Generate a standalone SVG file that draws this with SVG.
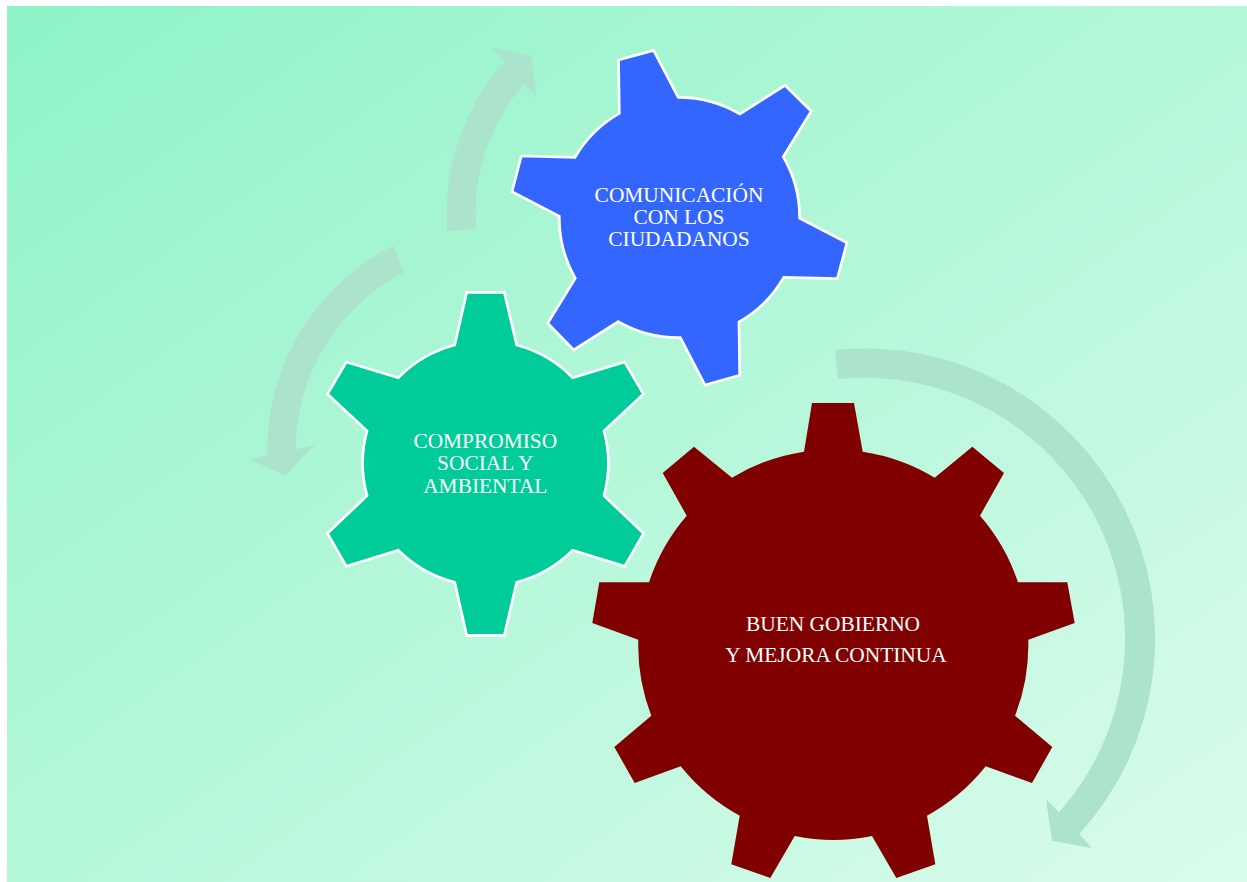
<svg xmlns="http://www.w3.org/2000/svg" width="1247" height="882" viewBox="0 0 1247 882">
<style>
.gear{stroke:#fff;stroke-width:2.7;stroke-linejoin:miter}
.arrow{fill:#abe3cc}
text{font-family:"Liberation Serif","Times New Roman",serif;font-size:21.4px;fill:#fff;text-anchor:middle}
</style>
<defs><linearGradient id="bg" x1="0" y1="0" x2="1" y2="1"><stop offset="0" stop-color="#8ef3c6"/><stop offset="1" stop-color="#dafbec"/></linearGradient></defs>
<rect width="1247" height="882" fill="#fff"/>
<rect x="7" y="6" width="1240" height="876" fill="url(#bg)"/>
<g id="connectors">
<path class="arrow" d="M835,350A290,290 0 0 1 1079.3,834L1091.7,848L1052,840.7L1046,799.3L1059,812.3A261,261 0 0 0 838,379Z"/>
<path class="arrow" d="M447.3,231A230,230 0 0 1 504.3,61.7L492.3,47.7L531.7,55.7L536.3,97.3L524.3,83.3A200,200 0 0 0 476,229Z"/>
<path class="arrow" d="M393,245.7A230,230 0 0 0 267.3,455L249.3,459.3L285.3,475.7L314.7,445.3L295.7,449.3A200,200 0 0 1 404,272.3Z"/>
</g>
<g id="gear-comunicacion">
<path class="gear" fill="#3366ff" d="M619.3,113.3L618.5,60L653.6,50.4L678.3,97.3A120,120 0 0 1 740,114L785,85.3L811.3,111.3L783.3,156.7A120,120 0 0 1 799.6,218.3L847,242.7L837.3,278.7L783.7,277.3A120,120 0 0 1 739,322L739.7,375.3L705,385L680.3,337.7A120,120 0 0 1 618.3,321.7L573.7,350L547.7,323.3L575.3,278.3A120,120 0 0 1 559.3,216.3L512,191.7L521.3,156L575,157.3A120,120 0 0 1 619.3,113.3Z"/>
<text x="679" y="201.7">COMUNICACIÓN</text>
<text x="679" y="224">CON LOS</text>
<text x="679" y="246">CIUDADANOS</text>
</g>
<g id="gear-compromiso">
<path class="gear" fill="#00cc99" d="M454.7,345L466.7,292.3L504.3,292.3L516.7,345A123,123 0 0 1 572.7,377.7L624.7,362L643.5,394L604,431A123,123 0 0 1 604,495.7L643.5,533.3L624.7,566.3L572.7,550.3A123,123 0 0 1 516.7,582.3L504.3,635.4L466.7,635.4L454.7,582.3A123,123 0 0 1 398.3,550.3L346.3,566.3L327.5,533.3L367,495.7A123,123 0 0 1 367,431L327.5,394L346.3,362L398.3,377.7A123,123 0 0 1 454.7,345Z"/>
<text x="485.3" y="447.7">COMPROMISO</text>
<text x="485.3" y="470">SOCIAL Y</text>
<text x="485.3" y="492.7">AMBIENTAL</text>
</g>
<g id="gear-gobierno">
<path fill="#800000" d="M804,451.7L812,403L854,403L862.7,451.7A195,195 0 0 1 934.7,477.7L972.3,446.7L1004,473L980,515.7A195,195 0 0 1 1018,582.3L1067.3,582.3L1074.7,623L1028.3,639.7A195,195 0 0 1 1015,715.7L1052.3,747L1032,783L985.7,766.3A195,195 0 0 1 927,815.7L935.3,864.3L896.3,878L872,836A195,195 0 0 1 794.7,836L770.3,878L731.3,864.3L739.7,815.7A195,195 0 0 1 680.7,766.3L634.7,783L614.3,747L651.3,715.7A195,195 0 0 1 638.3,639.7L592.3,623L599.3,582.3L649,582.3A195,195 0 0 1 686.7,515.7L662.7,473L694,446.7L732,477.7A195,195 0 0 1 804,451.7Z"/>
<text x="833" y="631">BUEN GOBIERNO</text>
<text x="836" y="661.7">Y MEJORA CONTINUA</text>
</g>
</svg>
